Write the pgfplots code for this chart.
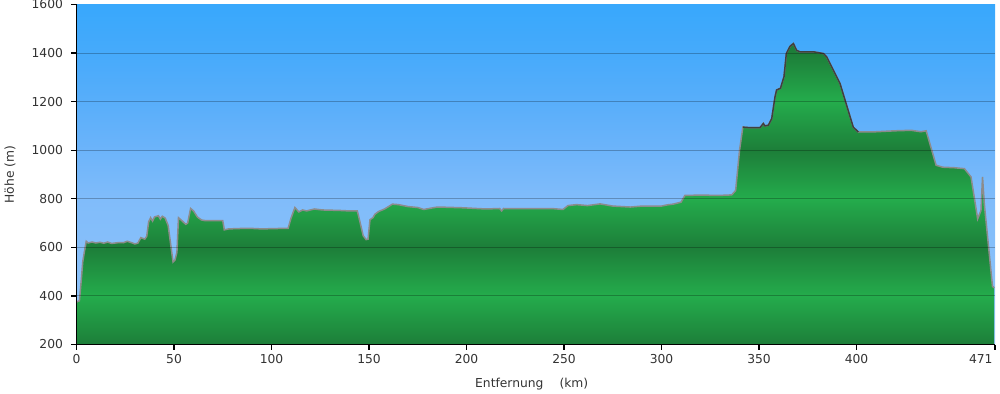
\documentclass[border=0pt]{standalone}
\usepackage{pgfplots}
\pgfplotsset{compat=1.18}
\usepackage{pgfplotstable}
\usepackage{fontspec}
\setmainfont{DejaVu Sans}

\definecolor{skyA}{RGB}{150,200,250}
\definecolor{skyB}{RGB}{140,194,250}
\definecolor{skyC}{RGB}{128,188,250}
\definecolor{skyD}{RGB}{108,180,250}
\definecolor{skyE}{RGB}{88,174,250}
\definecolor{skyF}{RGB}{70,170,251}
\definecolor{skyG}{RGB}{56,168,252}
\definecolor{gDark}{RGB}{29,126,57}
\definecolor{gLight}{RGB}{36,172,76}
\definecolor{txt}{RGB}{51,51,51}

% path bbox maps to 25bp..75bp
\pgfdeclareverticalshading{skyshade}{100bp}{%
color(0bp)=(skyA); color(25bp)=(skyA); color(32.14bp)=(skyB); color(46.43bp)=(skyC);
color(53.57bp)=(skyD); color(60.71bp)=(skyE); color(67.86bp)=(skyF); color(75bp)=(skyG); color(100bp)=(skyG)}
\pgfdeclareverticalshading{greenshade}{100bp}{%
color(0bp)=(gDark); color(25bp)=(gDark); color(33.07bp)=(gLight); color(41.14bp)=(gDark);
color(49.21bp)=(gLight); color(57.28bp)=(gDark); color(65.35bp)=(gLight); color(73.42bp)=(gDark); color(75bp)=(gDark); color(100bp)=(gDark)}

\pgfplotstableread{
km m
0 375
1.5 380
2.5 470
3.2 540
4 580
5 625
6 618
8 622
10 618
12 621
14 617
16 622
18 616
20 618
22 620
24 619
26 625
28 620
30 614
31.5 618
33 640
35 634
36 645
37 705
38 722
39 708
40 725
42 730
43 716
44 728
45.5 720
47 690
48.5 600
49.5 540
50.5 548
51.5 580
52.3 722
54 710
56 695
57 700
58.5 760
60 750
62 725
64 713
66 710
70 710
75 710
75.8 672
78 676
85 678
90 678
95 676
100 677
105 678
108.5 678
110 720
112 764
114 746
116 754
118 750
122 758
126 754
135 752
140 750
144 750
145.5 700
147 648
148.5 632
149.5 634
150.5 714
152 722
153 736
155 748
158 758
162 778
165 776
170 768
175 764
178 756
185 766
190 765
198 763
210 758
217 760
218 750
219 760
232 759
245 759
249.5 756
252 772
256.5 776
262 772
268.5 779
275 770
284 766
290 770
300 770
303 775
306 778
310 786
312 814
320 815
330 814
336 816
338 834
340 1000
341.7 1095
345 1093
350.5 1093
352.2 1110
353 1100
354.8 1103
356.5 1130
358.2 1220
359 1248
361 1255
362.8 1303
364 1398
365.9 1428
367.6 1439
369.3 1411
371 1405
378 1405
383 1398
384.7 1384
391.5 1275
398.3 1095
400.9 1075
410 1076
420 1080
428 1082
433 1076
435.7 1080
440.8 938
444.2 930
450 928
455.3 924
458.7 890
462.1 717
463.8 752
464.6 890
465.5 780
469.7 440
470.6 433
}\profile

\begin{document}
\begin{tikzpicture}
\begin{axis}[
  scale only axis, width=918.5pt, height=340pt,
  xmin=0, xmax=471, ymin=200, ymax=1600,
  axis x line*=bottom, axis y line*=left,
  axis line style={-, black, line width=1.5pt},
  axis background/.style={shading=skyshade},
  axis on top,
  xtick={0,50,100,150,200,250,300,350,400,471},
  xticklabels={0,50,100,150,200,250,300,350,400,\llap{471\hspace{2.5pt}}},
  ytick={200,400,...,1600},
  extra y ticks={400,600,...,1400},
  extra y tick labels={},
  extra y tick style={grid=major, major tick length=0pt},
  grid style={black, opacity=0.25, line width=1pt},
  tick align=outside, major tick length=5pt,
  tick style={black, line width=1.2pt},
  font=\fontsize{12.3}{14}\selectfont,
  /pgf/number format/assume math mode=true,
  /pgf/number format/1000 sep={},
  tick label style={text=txt},
  yticklabel style={xshift=-5pt},
  xticklabel style={yshift=-1.5pt},
  xlabel={Entfernung\hspace{16pt}(km)},
  xlabel style={at={(axis description cs:0.4956,0)}, anchor=center, yshift=-40pt, text=txt},
  ylabel={Höhe (m)},
  ylabel style={at={(axis description cs:-0.0724,0.5)}, anchor=center, text=txt},
]
\addplot[draw=none, shade, shading=greenshade] table[x=km,y=m] {\profile}
  -- (axis cs:470.6,200) -- (axis cs:0,200) -- cycle;
\addplot[color=gray!90, line width=1.5pt, mark=none] table[x=km,y=m] {\profile};
\addplot[color=black!75, line width=1.5pt, mark=none, restrict x to domain=341.7:400.9] table[x=km,y=m] {\profile};
\end{axis}
\pgfresetboundingbox
\path ([shift={(-76.5pt,-49pt)}]current axis.south west) rectangle ([shift={(5pt,4.5pt)}]current axis.north east);
\end{tikzpicture}
\end{document}
